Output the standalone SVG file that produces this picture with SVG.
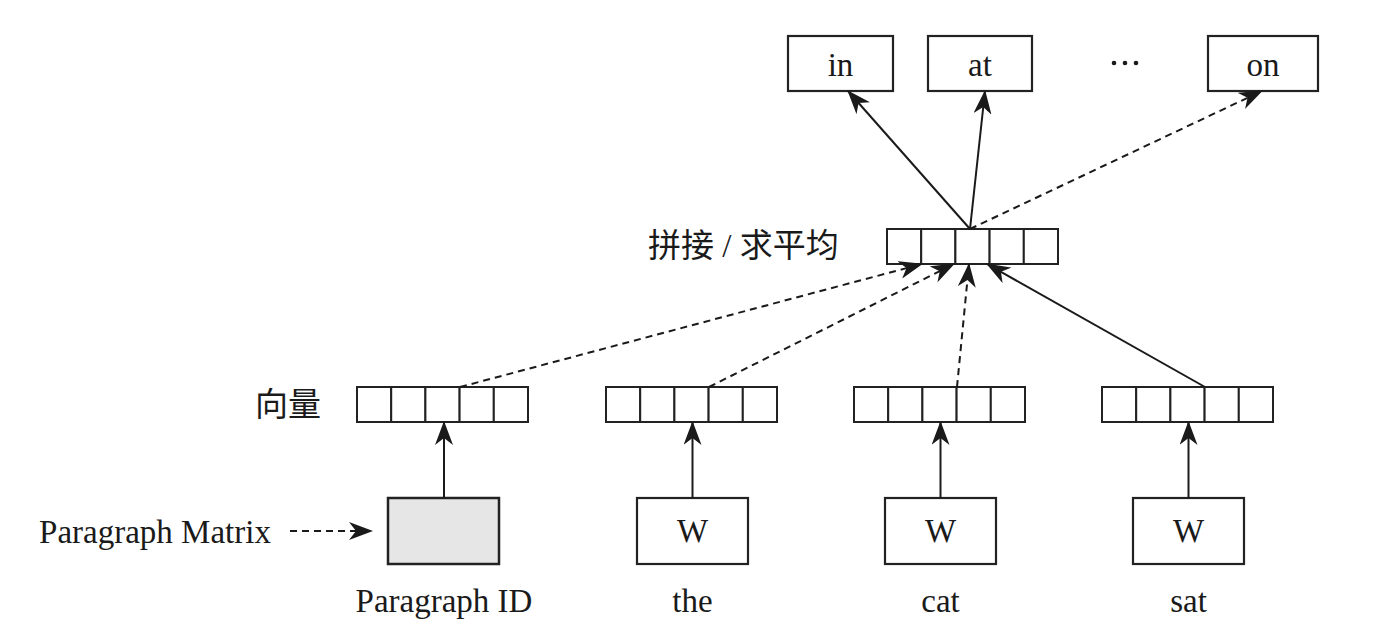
<svg xmlns="http://www.w3.org/2000/svg" width="1397" height="632" viewBox="0 0 1397 632">
<defs>
<style>
.box{fill:#fff;stroke:#222;stroke-width:2.2}
.gray{fill:#e6e6e6;stroke:#222;stroke-width:2.5}
.cell{fill:#fff;stroke:#222;stroke-width:2}
.t{font-family:"Liberation Serif","Times New Roman",serif;font-size:33px;fill:#1a1a1a;text-anchor:middle}
.cjk{font-family:"Liberation Serif","Noto Sans CJK SC",serif;font-size:33px;fill:#1a1a1a}
.ln{stroke:#1a1a1a;stroke-width:2;fill:none}
.dash{stroke-dasharray:7 5}
</style>
<marker id="ah" viewBox="0 0 24 18" refX="23" refY="9" markerWidth="24" markerHeight="18" markerUnits="userSpaceOnUse" orient="auto">
<path d="M0,0 L24,9 L0,18 L7,9 Z" fill="#1a1a1a"/>
</marker>
<g id="vec">
<rect class="cell" x="0" y="0" width="34.2" height="35"/>
<rect class="cell" x="34.2" y="0" width="34.2" height="35"/>
<rect class="cell" x="68.4" y="0" width="34.2" height="35"/>
<rect class="cell" x="102.6" y="0" width="34.2" height="35"/>
<rect class="cell" x="136.8" y="0" width="34.2" height="35"/>
</g>
</defs>
<rect width="1397" height="632" fill="#fff"/>

<g id="out-in"><rect class="box" x="788" y="36" width="105" height="55"/><text class="t" x="840.5" y="76">in</text></g>
<g id="out-at"><rect class="box" x="928" y="36" width="104" height="55"/><text class="t" x="980" y="76">at</text></g>
<g id="out-dots"><circle cx="1114" cy="63" r="2.3" fill="#1a1a1a"/><circle cx="1125" cy="63" r="2.3" fill="#1a1a1a"/><circle cx="1136" cy="63" r="2.3" fill="#1a1a1a"/></g>
<g id="out-on"><rect class="box" x="1208" y="36" width="110" height="55"/><text class="t" x="1263" y="76">on</text></g>

<g id="concat"><use href="#vec" x="887" y="229"/><text class="cjk" x="648" y="257">拼接 / 求平均</text></g>

<g id="vec-pid"><use href="#vec" x="357" y="387"/><text class="cjk" x="255" y="416">向量</text></g>
<g id="vec-the"><use href="#vec" x="606" y="387"/></g>
<g id="vec-cat"><use href="#vec" x="854" y="387"/></g>
<g id="vec-sat"><use href="#vec" x="1102" y="387"/></g>

<g id="pid"><rect class="gray" x="388" y="498" width="111" height="66"/><text class="t" x="444" y="612">Paragraph ID</text></g>
<g id="w-the"><rect class="box" x="637" y="498" width="111" height="66"/><text class="t" x="692.5" y="542">W</text><text class="t" x="692.5" y="612">the</text></g>
<g id="w-cat"><rect class="box" x="885" y="498" width="111" height="66"/><text class="t" x="940.5" y="542">W</text><text class="t" x="940.5" y="612">cat</text></g>
<g id="w-sat"><rect class="box" x="1133" y="498" width="111" height="66"/><text class="t" x="1188.5" y="542">W</text><text class="t" x="1188.5" y="612">sat</text></g>

<g id="pm-label"><text class="t" x="155" y="543">Paragraph Matrix</text></g>

<g id="connectors">
<line class="ln dash" x1="290" y1="531" x2="372" y2="531" marker-end="url(#ah)"/>
<line class="ln" x1="444" y1="498" x2="444" y2="422" marker-end="url(#ah)"/>
<line class="ln" x1="692.5" y1="498" x2="692.5" y2="422" marker-end="url(#ah)"/>
<line class="ln" x1="940.5" y1="498" x2="940.5" y2="422" marker-end="url(#ah)"/>
<line class="ln" x1="1188.5" y1="498" x2="1188.5" y2="422" marker-end="url(#ah)"/>
<line class="ln dash" x1="460" y1="387" x2="922" y2="264" marker-end="url(#ah)"/>
<line class="ln dash" x1="709" y1="387" x2="954" y2="264" marker-end="url(#ah)"/>
<line class="ln dash" x1="957" y1="387" x2="969" y2="264" marker-end="url(#ah)"/>
<line class="ln" x1="1205" y1="387" x2="987" y2="264" marker-end="url(#ah)"/>
<line class="ln" x1="970" y1="229" x2="848" y2="91" marker-end="url(#ah)"/>
<line class="ln" x1="970" y1="229" x2="985" y2="91" marker-end="url(#ah)"/>
<line class="ln dash" x1="970" y1="229" x2="1262" y2="91" marker-end="url(#ah)"/>
</g>
</svg>
